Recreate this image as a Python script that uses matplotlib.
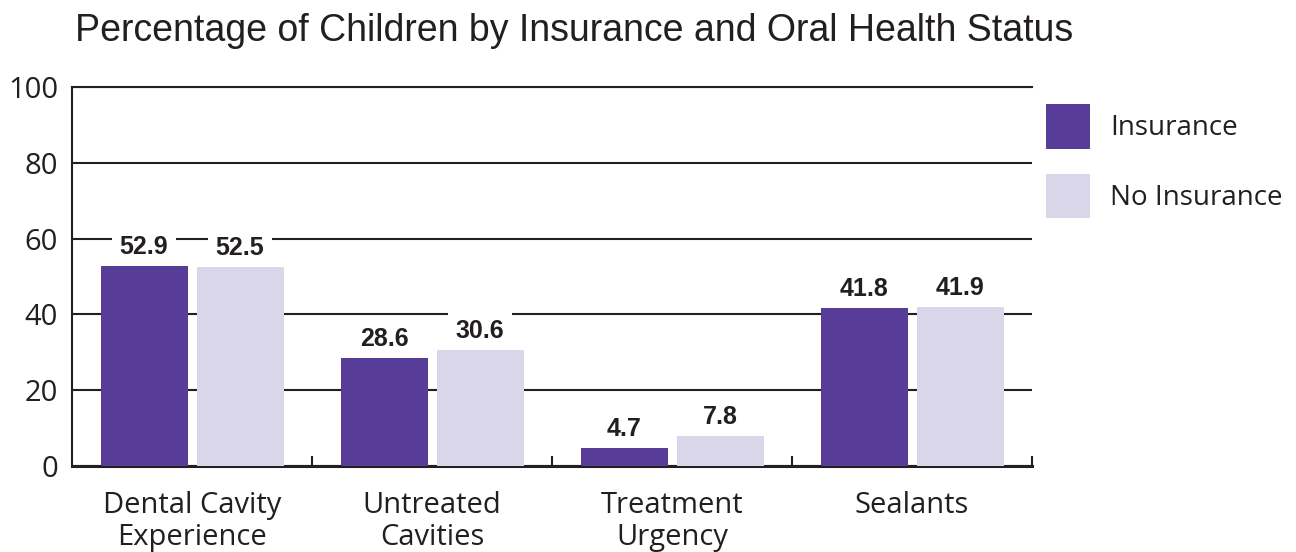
import matplotlib
matplotlib.use("Agg")
import matplotlib.pyplot as plt
import numpy as np

categories = ["Dental Cavity\nExperience", "Untreated\nCavities", "Treatment\nUrgency", "Sealants"]
series_names = ["Insurance", "No Insurance"]
insurance = [52.9, 28.6, 4.7, 41.8]
no_insurance = [52.5, 30.6, 7.8, 41.9]
y_ticks = [0, 20, 40, 60, 80, 100]

PURPLE = "#573d97"
LAVENDER = "#dbd7eb"
TEXT = "#231f20"

plt.rcParams["font.family"] = ["Open Sans", "DejaVu Sans"]

fig = plt.figure(figsize=(12.96, 5.52), dpi=100)
ax = fig.add_axes([72 / 1296, 86 / 552, (1032 - 72) / 1296, (466 - 87) / 552])

x = np.arange(len(categories))
w = 0.3625
off = 0.2
b1 = ax.bar(x - off, insurance, w, color=PURPLE, zorder=3, label=series_names[0])
b2 = ax.bar(x + off, no_insurance, w, color=LAVENDER, zorder=3, label=series_names[1])

# value labels sit on a white patch that hides the gridlines but stays under the bars
for bars, vals in ((b1, insurance), (b2, no_insurance)):
    for rect, v in zip(bars, vals):
        ax.annotate(f"{v:.1f}", (rect.get_x() + rect.get_width() / 2, rect.get_height()),
                    xytext=(0, 5), textcoords="offset points", ha="center", va="bottom",
                    fontsize=18, fontweight="bold", family="Liberation Sans", color=TEXT,
                    bbox=dict(boxstyle="square,pad=0.3", fc="white", ec="none"), zorder=2)

ax.set_xlim(-0.5, 3.5)
ax.set_ylim(0, 100)
ax.set_yticks(y_ticks)
ax.set_yticklabels([str(t) for t in y_ticks], fontsize=21, color=TEXT)
ax.tick_params(axis="y", length=0, pad=10)
ax.yaxis.grid(True, color=TEXT, lw=1.5, zorder=1)
ax.set_axisbelow(True)

ax.set_xticks(x)
ax.set_xticklabels(categories, fontsize=21, color=TEXT, linespacing=1.15)
ax.tick_params(axis="x", which="major", length=0, pad=18)
ax.set_xticks([0.5, 1.5, 2.5, 3.5], minor=True)
ax.tick_params(axis="x", which="minor", direction="in", length=7, width=1.5, color=TEXT)

ax.spines["right"].set_visible(False)
ax.spines["top"].set_linewidth(1.5)
ax.spines["top"].set_color(TEXT)
ax.spines["left"].set_linewidth(1.5)
ax.spines["left"].set_color(TEXT)
ax.spines["bottom"].set_linewidth(2.2)
ax.spines["bottom"].set_color(TEXT)

fig.legend(handles=[b1, b2], labels=series_names, loc="upper left",
           bbox_to_anchor=(1046 / 1296, 1 - 104 / 552), frameon=False,
           fontsize=20, handlelength=1.6, handleheight=2.1, handletextpad=0.7,
           labelspacing=0.9, borderpad=0, borderaxespad=0, labelcolor=TEXT)

fig.text(75 / 1296, 1 - 31 / 552, "Percentage of Children by Insurance and Oral Health Status",
         ha="left", va="center", fontsize=27, family="Liberation Sans", color=TEXT)

fig.savefig("out.png", dpi=100)
